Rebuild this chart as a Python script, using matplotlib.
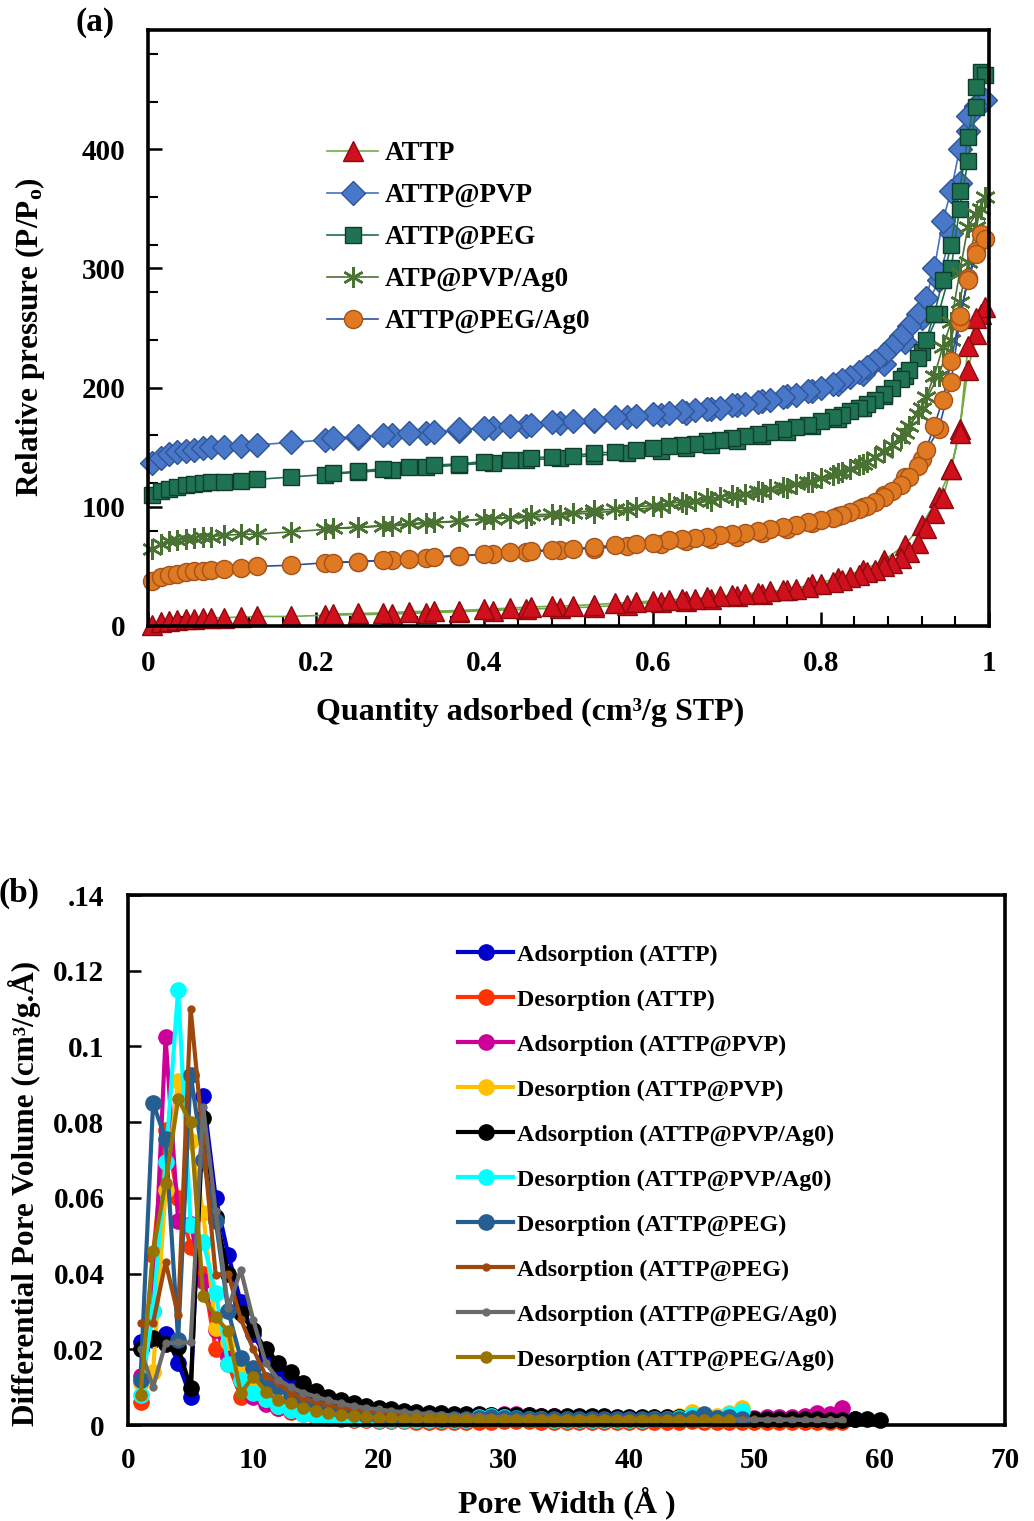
import matplotlib
matplotlib.use('Agg')
import matplotlib.pyplot as plt

plt.rcParams['font.family'] = 'Liberation Serif'
plt.rcParams['font.weight'] = 'bold'
plt.rcParams['mathtext.fontset'] = 'custom'
plt.rcParams['mathtext.rm'] = 'Liberation Serif:bold'
plt.rcParams['mathtext.bf'] = 'Liberation Serif:bold'
plt.rcParams['mathtext.it'] = 'Liberation Serif:bold'

# ---------------- (a) isotherms: adsorption branch + desorption branch ----------------
p_ads = [0.005, 0.015, 0.025, 0.035, 0.045, 0.055, 0.065, 0.075, 0.09, 0.11, 0.13, 0.17, 0.21,
         0.25, 0.29, 0.33, 0.37, 0.41, 0.45, 0.49, 0.53, 0.57, 0.61, 0.64, 0.67, 0.70, 0.73,
         0.76, 0.79, 0.82, 0.85, 0.875, 0.90, 0.92, 0.94, 0.955, 0.965, 0.975, 0.985, 0.99]
p_des = [0.995, 0.985, 0.975, 0.965, 0.955, 0.945, 0.935, 0.925, 0.915, 0.905, 0.895, 0.885,
         0.875, 0.865, 0.855, 0.845, 0.835, 0.825, 0.815, 0.80, 0.785, 0.77, 0.755, 0.74, 0.725,
         0.71, 0.695, 0.68, 0.665, 0.65, 0.635, 0.62, 0.60, 0.58, 0.555, 0.53, 0.505, 0.48,
         0.455, 0.43, 0.40, 0.37, 0.34, 0.31, 0.28, 0.25, 0.22]

attp_ads = [1, 3, 4, 5, 5.5, 6, 6.5, 7, 7, 7.5, 8, 8, 9, 9.5, 10, 11, 12, 13, 14, 15, 16, 18, 20,
            21, 23, 25, 27, 30, 35, 40, 47, 55, 68, 85, 108, 132, 165, 215, 245, 262]
attp_des = [268, 258, 235, 162, 132, 107, 95, 82, 70, 62, 57, 53, 50, 47, 45, 43, 41, 39, 37, 35,
            33, 31, 30, 29, 28, 27, 26, 25, 24, 23, 22.5, 22, 21, 20, 19, 18, 17, 16.5, 16, 15,
            14, 13, 12.5, 12, 11, 10.5, 10]
pvp_ads = [137, 141, 144, 146, 147, 148, 149, 150, 150, 151, 152, 154, 156, 158, 160, 162, 164,
           166, 168, 170, 172, 175, 177, 179, 182, 185, 189, 193, 197, 203, 211, 220, 238, 258,
           290, 330, 372, 415, 435, 441]
pvp_des = [441, 436, 428, 400, 365, 340, 300, 275, 262, 252, 243, 235, 228, 222, 217, 213, 209,
           206, 203, 200, 197, 194, 192, 190, 188, 186, 185, 183, 182, 181, 180, 179, 178, 176,
           175, 173, 172, 171, 169, 168, 166, 165, 163, 162, 160, 159, 158]
peg_ads = [110, 113, 115, 117, 118, 119, 120, 121, 121, 122, 123, 125, 127, 129, 131, 133, 135,
           137, 139, 141, 143, 145, 147, 149, 152, 155, 159, 163, 168, 174, 183, 193, 210, 230,
           262, 300, 350, 390, 435, 465]
peg_des = [462, 452, 410, 365, 320, 290, 262, 240, 225, 215, 207, 200, 195, 190, 186, 183, 180,
           177, 175, 172, 169, 167, 165, 163, 161, 159, 158, 156, 155, 153, 152, 151, 149, 148,
           146, 145, 143, 142, 141, 139, 138, 136, 135, 133, 132, 130, 128]
pvpag_ads = [65, 69, 71, 72, 73, 74, 75, 75, 76, 77, 77, 79, 81, 83, 84, 86, 88, 90, 91, 93, 95,
             97, 100, 102, 105, 108, 112, 116, 121, 128, 136, 146, 162, 183, 210, 240, 272, 305,
             335, 350]
pvpag_des = [360, 346, 335, 296, 255, 234, 210, 192, 178, 168, 158, 152, 147, 142, 138, 135, 132,
             129, 127, 124, 121, 119, 117, 115, 113, 111, 110, 108, 107, 105, 104, 103, 101, 100,
             98, 97, 95, 94, 93, 91, 90, 88, 87, 86, 84, 83, 82]
pegag_ads = [38, 41, 43, 44, 45, 46, 46.5, 47, 48, 49, 50, 51, 53, 54, 55, 57, 59, 60, 62, 64, 65,
             67, 69, 71, 73, 75, 78, 81, 86, 92, 100, 110, 125, 140, 165, 205, 255, 292, 315, 329]
pegag_des = [325, 312, 290, 260, 222, 190, 168, 148, 134, 125, 118, 113, 108, 104, 101, 98, 96,
             93, 91, 89, 87, 85, 83, 81, 80, 78, 77, 76, 75, 74, 73, 72, 70, 69, 68, 66, 65, 64,
             63, 62, 60, 59, 58, 56, 55, 54, 53]

iso_names = ['ATTP', 'ATTP@PVP', 'ATTP@PEG', 'ATP@PVP/Ag0', 'ATTP@PEG/Ag0']

# ---------------- (b) pore size distributions ----------------
pore_width = [1, 2, 3, 4, 5, 6, 7, 8, 9, 10, 11, 12, 13, 14, 15, 16, 17, 18, 19, 20, 21, 22, 23,
              24, 25, 26, 27, 28, 29, 30, 31, 32, 33, 34, 35, 36, 37, 38, 39, 40, 41, 42, 43, 44,
              45, 46, 47, 48, 49, 50, 51, 52, 53, 54, 55, 56, 57, 58, 59, 60]

ads_attp = [0.022, 0.0225, 0.024, 0.0165, 0.0075, 0.087, 0.060, 0.045, 0.0325, 0.024, 0.018,
            0.013, 0.0105, 0.0085, 0.007, 0.0058, 0.005, 0.0044, 0.0039, 0.0035, 0.0032, 0.003,
            0.0028, 0.0026, 0.0025, 0.0024, 0.0023, 0.0022, 0.0022, 0.0021, 0.0021, 0.002, 0.002,
            0.0019, 0.0019, 0.0018, 0.0018, 0.0017, 0.0017, 0.0016, 0.0016, 0.0015, 0.0015,
            0.0015, 0.0014, 0.0014, 0.0014, 0.0013, 0.0013, 0.0013, 0.0012, 0.0012, 0.0012,
            0.0011, 0.0011, 0.0011, 0.0012, 0.0015]
des_attp = [0.006, 0.045, 0.078, 0.060, 0.047, 0.040, 0.020, 0.016, 0.0075, 0.008, 0.006, 0.0045,
            0.0035, 0.0028, 0.0022, 0.0018, 0.0015, 0.0013, 0.0012, 0.0011, 0.001, 0.001, 0.0009,
            0.0009, 0.0009, 0.0008, 0.0008, 0.0008, 0.0009, 0.001, 0.001, 0.001, 0.0009, 0.0009,
            0.0008, 0.0008, 0.0008, 0.0008, 0.0008, 0.0008, 0.0008, 0.0008, 0.0008, 0.0009,
            0.001, 0.0009, 0.0008, 0.0008, 0.0009, 0.0008, 0.0008, 0.0008, 0.0008, 0.0008,
            0.0008, 0.0008, 0.0008]
ads_pvp = [0.013, 0.030, 0.1024, 0.054, 0.053, 0.038, 0.025, 0.018, 0.012, 0.0075, 0.0055, 0.0045,
           0.0038, 0.0032, 0.0028, 0.0025, 0.0022, 0.002, 0.0019, 0.0018, 0.0017, 0.0017, 0.0016,
           0.0016, 0.0016, 0.0016, 0.0018, 0.0022, 0.0026, 0.003, 0.0028, 0.0026, 0.0025, 0.0024,
           0.0022, 0.002, 0.0019, 0.0018, 0.0018, 0.0017, 0.0017, 0.0016, 0.0016, 0.0016, 0.0017,
           0.0018, 0.0018, 0.0018, 0.0018, 0.0019, 0.002, 0.0021, 0.0022, 0.0025, 0.0032, 0.003,
           0.0045]
des_pvp = [0.011, 0.014, 0.062, 0.091, 0.075, 0.056, 0.0255, 0.022, 0.016, 0.011, 0.007, 0.005,
           0.004, 0.0033, 0.0028, 0.0024, 0.0021, 0.0019, 0.0018, 0.0017, 0.0016, 0.0016, 0.0015,
           0.0015, 0.0015, 0.0016, 0.0018, 0.0022, 0.0024, 0.0022, 0.002, 0.0019, 0.0018, 0.0017,
           0.0016, 0.0016, 0.0016, 0.0016, 0.0016, 0.0017, 0.0018, 0.0019, 0.002, 0.0024, 0.0034,
           0.0022, 0.0024, 0.0032, 0.0045]
ads_pvpag = [0.020, 0.023, 0.0215, 0.0205, 0.0098, 0.081, 0.055, 0.040, 0.0295, 0.025, 0.020,
             0.0163, 0.0141, 0.011, 0.0091, 0.0075, 0.0066, 0.0057, 0.005, 0.0045, 0.0042, 0.0038,
             0.0035, 0.0033, 0.0031, 0.003, 0.0029, 0.0028, 0.0027, 0.0027, 0.0026, 0.0026,
             0.0025, 0.0025, 0.0024, 0.0024, 0.0023, 0.0023, 0.0022, 0.0022, 0.0021, 0.0021,
             0.002, 0.002, 0.002, 0.0019, 0.0019, 0.0018, 0.0018, 0.0017, 0.0017, 0.0016, 0.0016,
             0.0015, 0.0015, 0.0014, 0.0014, 0.0015, 0.0017, 0.0013]
des_pvpag = [0.008, 0.030, 0.0694, 0.115, 0.0527, 0.0484, 0.0348, 0.016, 0.012, 0.0085, 0.007,
             0.005, 0.004, 0.003, 0.0025, 0.0021, 0.0018, 0.0016, 0.0015, 0.0014, 0.0013, 0.0013,
             0.0012, 0.0012, 0.0012, 0.0012, 0.0014, 0.0021, 0.0023, 0.002, 0.0018, 0.0016,
             0.0015, 0.0014, 0.0013, 0.0013, 0.0013, 0.0013, 0.0013, 0.0014, 0.0014, 0.0015,
             0.0016, 0.0018, 0.0026, 0.0016, 0.0019, 0.0028, 0.0036]
des_peg = [0.012, 0.085, 0.0755, 0.0225, 0.0925, 0.070, 0.054, 0.030, 0.0176, 0.015, 0.0119,
           0.010, 0.008, 0.0065, 0.0052, 0.0043, 0.0036, 0.0031, 0.0027, 0.0024, 0.0022, 0.002,
           0.0019, 0.0018, 0.0017, 0.0017, 0.0017, 0.0019, 0.002, 0.0019, 0.0018, 0.0017, 0.0016,
           0.0016, 0.0015, 0.0015, 0.0015, 0.0015, 0.0015, 0.0015, 0.0015, 0.0015, 0.0016,
           0.0017, 0.0018, 0.0028, 0.0018, 0.002, 0.0016]
ads_peg = [0.027, 0.027, 0.043, 0.029, 0.110, 0.075, 0.0396, 0.040, 0.028, 0.020, 0.013, 0.011,
           0.0085, 0.007, 0.006, 0.0052, 0.0046, 0.0041, 0.0037, 0.0034, 0.0031, 0.0029, 0.0027,
           0.0026, 0.0025, 0.0024, 0.0023, 0.0022, 0.0022, 0.0021, 0.0021, 0.002, 0.002, 0.002,
           0.0019, 0.0019, 0.0019, 0.0018, 0.0018, 0.0018, 0.0017, 0.0017, 0.0017, 0.0016,
           0.0016, 0.0016, 0.0015, 0.0015, 0.0015, 0.0015, 0.0014, 0.0014, 0.0014, 0.0014,
           0.0013, 0.0013, 0.0013]
ads_pegag = [0.020, 0.010, 0.0216, 0.0218, 0.0218, 0.084, 0.0564, 0.0308, 0.041, 0.0277, 0.0163,
             0.012, 0.010, 0.0085, 0.0075, 0.0065, 0.0057, 0.005, 0.0045, 0.0041, 0.0037, 0.0034,
             0.0031, 0.0029, 0.0027, 0.0025, 0.0024, 0.0023, 0.0022, 0.0021, 0.002, 0.002, 0.0019,
             0.0019, 0.0018, 0.0018, 0.0018, 0.0017, 0.0017, 0.0017, 0.0016, 0.0016, 0.0016,
             0.0016, 0.0015, 0.0015, 0.0015, 0.0015, 0.0014, 0.0014, 0.0014, 0.0014, 0.0014,
             0.0013, 0.0013, 0.0013, 0.0013]
des_pegag = [0.008, 0.046, 0.064, 0.086, 0.080, 0.034, 0.0286, 0.0247, 0.0084, 0.0128, 0.0088,
             0.0065, 0.0057, 0.0045, 0.0037, 0.0031, 0.0027, 0.0024, 0.0021, 0.0019, 0.0018,
             0.0017, 0.0016, 0.0015, 0.0015, 0.0014, 0.0014, 0.0014, 0.0014, 0.0014, 0.0014,
             0.0014, 0.0014, 0.0013, 0.0013, 0.0013, 0.0013, 0.0013, 0.0013, 0.0013, 0.0013,
             0.0013, 0.0013, 0.0013, 0.0013, 0.0013, 0.0013, 0.0013]

psd_names = ['Adsorption (ATTP)', 'Desorption (ATTP)', 'Adsorption (ATTP@PVP)',
             'Desorption (ATTP@PVP)', 'Adsorption (ATTP@PVP/Ag0)', 'Desorption (ATTP@PVP/Ag0)',
             'Desorption (ATTP@PEG)', 'Adsorption (ATTP@PEG)', 'Adsorption (ATTP@PEG/Ag0)',
             'Desorption (ATTP@PEG/Ag0)']

W, H = 1034, 1521
fig = plt.figure(figsize=(W / 100, H / 100), dpi=100)


def fx(px):
    return px / W


def fy(py):
    return 1 - py / H


# ---------------- panel (a) ----------------
ax1 = fig.add_axes([fx(148), fy(626), fx(989) - fx(148), fy(30) - fy(626)])

iso_styles = [
    dict(marker='^', ms=15, mfc='#d0101c', mec='#8a0a10', color='#70ad47'),
    dict(marker='D', ms=12.5, mfc='#4a78c8', mec='#2f5597', color='#4472c4'),
    dict(marker='s', ms=12, mfc='#1f7352', mec='#0e3d2b', color='#1f6e50'),
    dict(marker=(6, 2, 0), ms=15, mec='#4a7232', mew=1.8, color='#4a7232'),
    dict(marker='o', ms=13, mfc='#e07a22', mec='#a4521a', color='#2f4f9a'),
]
iso_data = [(attp_ads, attp_des), (pvp_ads, pvp_des), (peg_ads, peg_des),
            (pvpag_ads, pvpag_des), (pegag_ads, pegag_des)]

for name, (ads, des), st in zip(iso_names, iso_data, iso_styles):
    ax1.plot(p_ads + p_des, ads + des, lw=1.2, label=name, clip_on=False, **st)

ax1.set_xlim(0, 1)
ax1.set_ylim(0, 500)
ax1.set_xticks([0, 0.2, 0.4, 0.6, 0.8, 1.0])
ax1.set_xticklabels(['0', '0.2', '0.4', '0.6', '0.8', '1'])
ax1.set_xticks([i * 0.04 for i in range(26)], minor=True)
ax1.set_yticks([0, 100, 200, 300, 400])
ax1.set_yticks([i * 40 for i in range(13)], minor=True)
ax1.tick_params(axis='both', which='major', direction='in', length=10, width=1.8,
                labelsize=21, pad=16)
ax1.tick_params(axis='x', which='major', pad=17)
ax1.tick_params(axis='both', which='minor', direction='in', length=7, width=1.5)
for s in ax1.spines.values():
    s.set_linewidth(2.6)

leg1 = ax1.legend(loc='upper left', bbox_to_anchor=(fx(327), fy(141)),
                  bbox_transform=fig.transFigure, frameon=False, fontsize=19.5,
                  handlelength=1.9, handletextpad=0.25, labelspacing=0.63,
                  borderpad=0, borderaxespad=0)

fig.text(fx(530), fy(712), 'Quantity adsorbed (cm³/g STP)', ha='center', va='center',
         fontsize=23, fontweight='bold')
fig.text(fx(30), fy(337), r'Relative pressure (P/P$_\mathrm{o}$)', ha='center', va='center',
         rotation=90, fontsize=22.5, fontweight='bold')
fig.text(fx(95), fy(22), '(a)', ha='center', va='center', fontsize=24, fontweight='bold')

# ---------------- panel (b) ----------------
ax2 = fig.add_axes([fx(128), fy(1425), fx(1005) - fx(128), fy(895) - fy(1425)])

psd_data = [ads_attp, des_attp, ads_pvp, des_pvp, ads_pvpag, des_pvpag, des_peg, ads_peg,
            ads_pegag, des_pegag]
psd_colors = ['#0000cc', '#ff3300', '#cc0099', '#ffc000', '#000000', '#00ffff', '#255e91',
              '#9e480e', '#6b6b6b', '#997300']
psd_ms = [11, 11, 11, 11, 11, 11, 11, 5, 5, 8]

for name, vals, col, ms in zip(psd_names, psd_data, psd_colors, psd_ms):
    ax2.plot(pore_width[:len(vals)], vals, color=col, lw=3, marker='o', ms=ms,
             mfc=col, mec=col, label=name, clip_on=False)

ax2.set_xlim(0, 70)
ax2.set_ylim(0, 0.14)
ax2.set_xticks([0, 10, 20, 30, 40, 50, 60, 70])
ax2.set_yticks([0, 0.02, 0.04, 0.06, 0.08, 0.1, 0.12, 0.14])
ax2.set_yticklabels(['0', '0.02', '0.04', '0.06', '0.08', '0.1', '0.12', '.14'])
ax2.tick_params(axis='both', which='major', direction='in', length=9, width=1.8,
                labelsize=21, pad=17)
ax2.tick_params(axis='x', length=0, pad=16)
for s in ax2.spines.values():
    s.set_linewidth(2.6)

leg2 = ax2.legend(loc='upper left', bbox_to_anchor=(fx(458), fy(944)),
                  bbox_transform=fig.transFigure, frameon=False, fontsize=17.3,
                  handlelength=2.3, handletextpad=0.15, labelspacing=0.96,
                  borderpad=0, borderaxespad=0)

fig.text(fx(567), fy(1503), 'Pore Width (Å )', ha='center', va='center',
         fontsize=23, fontweight='bold')
fig.text(fx(25), fy(1193), 'Differential Pore Volume (cm³/g.Å)', ha='center',
         va='center', rotation=90, fontsize=22.5, fontweight='bold')
fig.text(fx(19), fy(893), '(b)', ha='center', va='center', fontsize=24, fontweight='bold')

fig.savefig('out.png', dpi=100)
